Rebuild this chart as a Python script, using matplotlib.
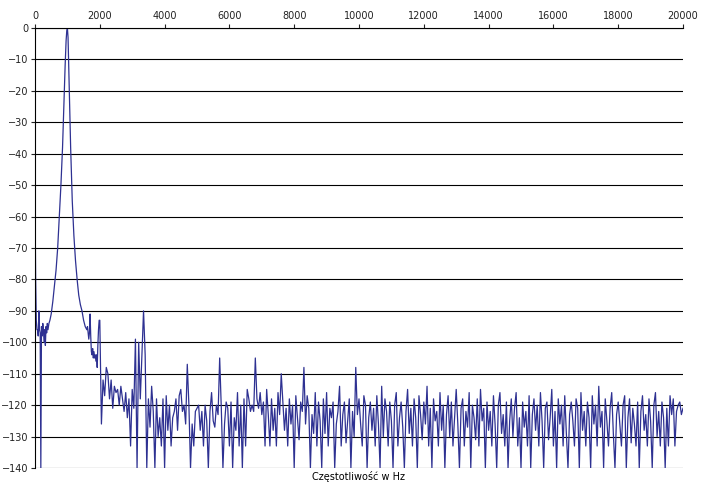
import matplotlib
matplotlib.use("Agg")
import matplotlib.pyplot as plt
import numpy as np

low_freq = [0, 20, 40, 60, 80, 100, 120, 140, 160, 180, 200, 220, 240, 260, 280, 300, 320, 340, 360, 380, 400, 430, 460, 500,
            550, 600, 650, 700, 750, 800, 850, 900, 930, 960, 980, 1000, 1020, 1040, 1070, 1100, 1150, 1200, 1250, 1300,
            1350, 1400, 1450, 1500, 1550, 1600, 1620, 1640, 1660, 1680, 1700, 1720, 1740, 1760, 1780, 1800, 1820, 1840,
            1860, 1880, 1900, 1920, 1940, 1960, 1980, 2000]
low_amp = [-55, -80, -93, -96, -96, -98, -90, -96, -97, -140, -95, -98, -94, -96, -100, -96, -101, -95, -97, -94, -96, -94, -93, -91,
           -87, -82, -77, -70, -60, -50, -38, -22, -12, -4, -1, 0, -3, -12, -25, -38, -55, -66, -74, -80,
           -85, -88, -90, -93, -95, -96, -95, -97, -99, -97, -91, -98, -103, -104, -102, -105, -103, -105, -104, -106, -104, -108,
           -101, -96, -93, -93]

noise_freq = list(range(2050, 20001, 50))
noise_amp = [
 -126,-112,-117,-108,-110,-118,-112,-121,-114,-116,-115,-120,-114,-118,-122,-116,-124,-118,-133,-115,
 -121,-99,-140,-100,-118,-104,-90,-104,-140,-118,-127,-114,-122,-140,-118,-130,-124,-133,-118,-140,
 -117,-128,-120,-133,-124,-122,-118,-128,-117,-115,-122,-120,-126,-107,-120,-140,-126,-133,-122,-121,
 -120,-128,-122,-133,-120,-125,-140,-122,-116,-125,-127,-120,-123,-105,-121,-140,-126,-119,-121,-133,
 -119,-140,-124,-128,-116,-133,-120,-140,-118,-133,-115,-118,-122,-120,-122,-105,-118,-121,-116,-123,
 -119,-133,-115,-123,-133,-118,-128,-121,-133,-116,-123,-110,-119,-128,-121,-133,-118,-126,-120,-140,
 -117,-124,-131,-119,-122,-108,-126,-117,-121,-140,-123,-129,-116,-133,-119,-125,-140,-118,-129,-116,
 -133,-121,-124,-119,-140,-126,-122,-114,-133,-123,-119,-132,-125,-118,-140,-122,-130,-108,-123,-118,
 -126,-133,-117,-120,-140,-124,-119,-128,-121,-133,-117,-126,-140,-114,-130,-118,-122,-133,-119,-125,
 -140,-120,-116,-133,-124,-119,-127,-140,-122,-115,-129,-121,-133,-118,-124,-140,-117,-123,-131,-119,
 -126,-114,-133,-121,-140,-118,-125,-122,-133,-116,-128,-120,-140,-123,-117,-130,-119,-133,-124,-115,
 -126,-140,-121,-118,-133,-122,-127,-116,-140,-120,-124,-131,-118,-133,-115,-125,-121,-140,-119,-128,
 -122,-133,-117,-126,-140,-120,-116,-129,-123,-133,-119,-140,-125,-118,-130,-121,-116,-133,-124,-140,
 -119,-127,-122,-133,-117,-140,-123,-118,-128,-120,-133,-116,-125,-140,-121,-119,-131,-124,-115,-133,
 -122,-140,-118,-126,-120,-133,-117,-129,-140,-123,-119,-125,-133,-118,-121,-140,-116,-128,-122,-133,
 -119,-124,-140,-117,-126,-120,-133,-114,-127,-122,-140,-118,-125,-133,-121,-116,-129,-140,-123,-119,
 -126,-133,-120,-117,-140,-124,-118,-132,-121,-126,-133,-119,-140,-122,-117,-128,-123,-133,-118,-125,
 -140,-120,-116,-130,-122,-133,-119,-124,-140,-121,-133,-117,-123,-118,-133,-122,-120,-119,-123,-121]
noise_amp = noise_amp[:len(noise_freq)]

freq = low_freq + noise_freq
amp = low_amp + noise_amp

fig = plt.figure(figsize=(7.05, 4.84), dpi=100)
ax = fig.add_axes([35/705, 16/484, 648/705, 440/484])
ax.plot(freq, amp, color="#2e3192", lw=0.9)
ax.set_xlim(0, 20000)
ax.set_ylim(-140, 0)
ax.set_xticks(range(0, 20001, 2000))
ax.set_yticks(range(-140, 1, 10))
ax.xaxis.tick_top()
ax.tick_params(labelsize=7, length=3, pad=2, colors="#222222")
ax.yaxis.grid(True, color="#000000", lw=0.8)
for s in ["right", "bottom"]:
    ax.spines[s].set_visible(False)
ax.set_xlabel("Częstotliwość w Hz", fontsize=7, labelpad=2)
ax.set_ylabel("Amplituda w dB", fontsize=7, labelpad=2)
fig.savefig("out.png", dpi=100)
